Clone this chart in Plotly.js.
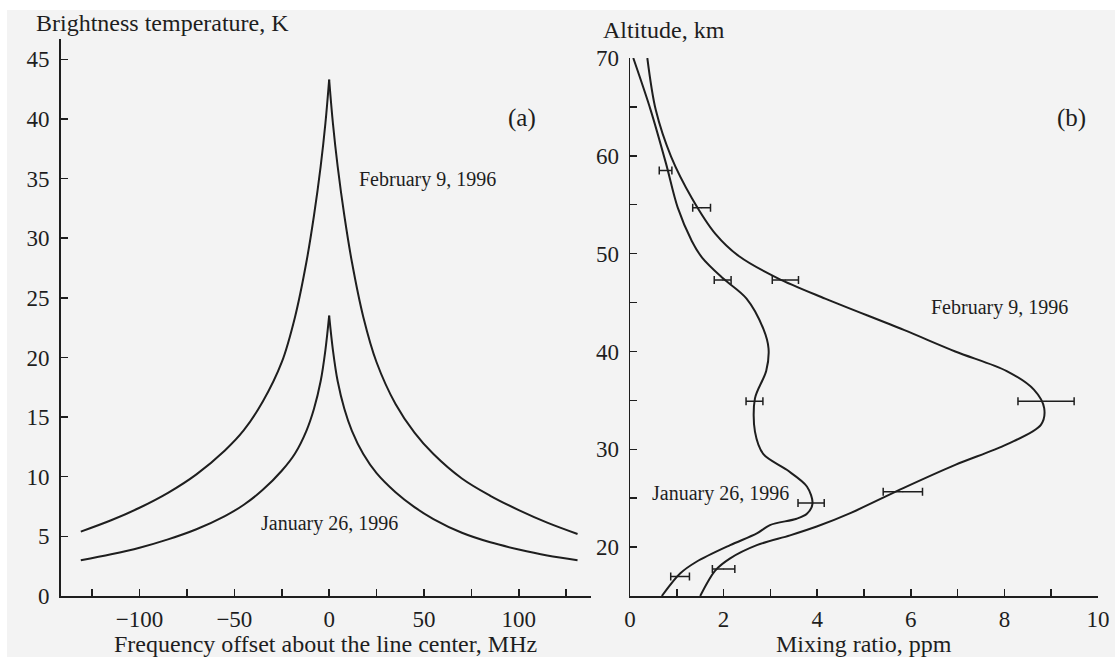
<!DOCTYPE html>
<html>
<head>
<meta charset="utf-8">
<script src="https://cdn.plot.ly/plotly-3.0.1.min.js"></script>
<style>
  html, body { margin: 0; padding: 0; background: #ffffff; }
  #chart { width: 1115px; height: 657px; }
</style>
</head>
<body>
<div id="chart"></div>
<script>
// ---------- Panel (a): brightness temperature spectra ----------
const freqMHz = [-131, -115, -100, -85, -70, -55, -45, -35, -25, -18, -12, -8, -4.5, -2, 0,
                 2, 4.5, 8, 12, 18, 25, 35, 45, 55, 70, 85, 100, 115, 131];
const tbFeb9  = [5.4, 6.35, 7.4, 8.65, 10.2, 12.2, 13.9, 16.3, 19.6, 23.4, 28.0, 31.9, 36.0, 39.6, 43.3,
                 39.6, 36.0, 31.9, 28.0, 23.4, 19.6, 16.1, 13.7, 11.9, 9.85, 8.4, 7.2, 6.15, 5.2];
const tbJan26 = [3.0, 3.5, 4.05, 4.75, 5.6, 6.7, 7.65, 8.9, 10.5, 11.95, 13.85, 15.7, 18.0, 20.6, 23.5,
                 20.6, 18.0, 15.7, 13.85, 11.9, 10.3, 8.7, 7.45, 6.45, 5.3, 4.5, 3.9, 3.4, 3.0];
const freqTickVals = [-125, -100, -75, -50, -25, 0, 25, 50, 75, 100, 125];
const freqTickText = ['', '\u2212100', '', '\u221250', '', '0', '', '50', '', '100', ''];
const tbTickVals = [0, 5, 10, 15, 20, 25, 30, 35, 40, 45];

// ---------- Panel (b): mixing-ratio profiles ----------
const mixJan26 = [0.07, 0.44, 0.77, 1.02, 1.32, 1.54, 1.98, 2.49, 2.85, 2.96, 2.91, 2.67, 2.67, 2.85,
                  3.35, 3.78, 3.90, 3.78, 3.56, 2.99, 2.71, 2.14, 1.42, 1.07, 0.68];
const altJan26 = [70, 64.7, 59.2, 54.7, 51.3, 49.6, 47.5, 45.4, 42.3, 40.3, 38.0, 35.2, 31.8, 29.5,
                  27.9, 26.2, 24.45, 23.4, 22.9, 22.25, 21.4, 20.2, 18.5, 17.3, 15];
const mixFeb9  = [0.37, 0.55, 0.88, 1.32, 1.83, 2.34, 3.15, 4.17, 5.85, 6.95, 8.05, 8.63, 8.85, 8.78,
                  8.05, 6.95, 5.85, 4.72, 3.99, 3.42, 2.71, 2.14, 1.82, 1.50];
const altFeb9  = [70, 64.7, 59.9, 55.7, 52.0, 49.7, 47.5, 45.4, 42.2, 40.0, 38.0, 36.1, 34.2, 32.5,
                  30.5, 28.4, 26.05, 23.5, 22.1, 21.2, 20.2, 18.85, 17.6, 15];
// error-bar points
const errMixJan26 = [0.76, 1.98, 2.66, 3.87, 1.07];
const errAltJan26 = [58.5, 47.3, 34.9, 24.5, 17.0];
const errHalfJan26 = [0.135, 0.18, 0.18, 0.28, 0.2];
const errMixFeb9 = [1.53, 3.32, 8.89, 5.83, 2.0];
const errAltFeb9 = [54.7, 47.3, 34.9, 25.65, 17.75];
const errHalfFeb9 = [0.19, 0.28, 0.6, 0.42, 0.24];
const mixTickVals = [0, 1, 2, 3, 4, 5, 6, 7, 8, 9, 10];
const mixTickText = ['0', '', '2', '', '4', '', '6', '', '8', '', '10'];
const altTickVals = [20, 25, 30, 35, 40, 45, 50, 55, 60, 65, 70];
const altTickText = ['20', '', '30', '', '40', '', '50', '', '60', '', '70'];

// ---------- layout helpers (pixel -> paper) ----------
const W = 1115, H = 657;
const px = v => v / W;
const py = v => (H - v) / H;
const ink = '#1e1e1e';
const serif = '"Liberation Serif", "Times New Roman", Times, serif';

const peak = freqMHz.indexOf(0);
const smoothLine = { color: ink, width: 2, shape: 'spline', smoothing: 1 };
const profLine = { color: ink, width: 2, shape: 'spline', smoothing: 0.9 };

const traces = [
  // each spectrum drawn as two smooth wings meeting in the sharp line-centre cusp
  { x: freqMHz.slice(0, peak + 1), y: tbFeb9.slice(0, peak + 1), xaxis: 'x', yaxis: 'y',
    mode: 'lines', line: smoothLine, hoverinfo: 'skip' },
  { x: freqMHz.slice(peak), y: tbFeb9.slice(peak), xaxis: 'x', yaxis: 'y',
    mode: 'lines', line: smoothLine, hoverinfo: 'skip' },
  { x: freqMHz.slice(0, peak + 1), y: tbJan26.slice(0, peak + 1), xaxis: 'x', yaxis: 'y',
    mode: 'lines', line: smoothLine, hoverinfo: 'skip' },
  { x: freqMHz.slice(peak), y: tbJan26.slice(peak), xaxis: 'x', yaxis: 'y',
    mode: 'lines', line: smoothLine, hoverinfo: 'skip' },
  { x: mixJan26, y: altJan26, xaxis: 'x2', yaxis: 'y2', mode: 'lines', line: profLine, hoverinfo: 'skip' },
  { x: mixFeb9, y: altFeb9, xaxis: 'x2', yaxis: 'y2', mode: 'lines', line: profLine, hoverinfo: 'skip' },
  { x: errMixJan26, y: errAltJan26, xaxis: 'x2', yaxis: 'y2', mode: 'markers',
    marker: { size: 1, color: ink },
    error_x: { type: 'data', array: errHalfJan26, visible: true, color: ink, thickness: 1.5, width: 4 },
    hoverinfo: 'skip' },
  { x: errMixFeb9, y: errAltFeb9, xaxis: 'x2', yaxis: 'y2', mode: 'markers',
    marker: { size: 1, color: ink },
    error_x: { type: 'data', array: errHalfFeb9, visible: true, color: ink, thickness: 1.5, width: 4 },
    hoverinfo: 'skip' }
];

const axisCommon = {
  showline: true, linecolor: ink, linewidth: 1.5,
  ticks: 'inside', ticklen: 7, tickwidth: 1.5, tickcolor: ink,
  showgrid: false, zeroline: false, automargin: false,
  tickfont: { family: serif, size: 23, color: ink },
  fixedrange: true
};

const ann = (text, x, y, xref, yref, size, xanchor) => ({
  text: text, x: x, y: y, xref: xref, yref: yref, showarrow: false,
  xanchor: xanchor || 'center', yanchor: 'middle',
  font: { family: serif, size: size, color: ink }
});

const layout = {
  width: W, height: H,
  margin: { l: 0, r: 0, t: 0, b: 0 },
  paper_bgcolor: '#f3f3f3',
  plot_bgcolor: 'rgba(0,0,0,0)',
  showlegend: false,
  xaxis: Object.assign({}, axisCommon, {
    domain: [px(60.5), px(591)], range: [-141.7, 138.1], anchor: 'y',
    tickmode: 'array', tickvals: freqTickVals, ticktext: freqTickText, ticklabelstandoff: 2
  }),
  yaxis: Object.assign({}, axisCommon, {
    domain: [py(596), py(39)], range: [0, 46.7], anchor: 'x',
    tickmode: 'array', tickvals: tbTickVals, ticktext: tbTickVals.map(String), ticklabelstandoff: 5
  }),
  xaxis2: Object.assign({}, axisCommon, {
    domain: [px(630), px(1098)], range: [0, 10], anchor: 'y2',
    tickmode: 'array', tickvals: mixTickVals, ticktext: mixTickText, ticklabelstandoff: 2
  }),
  yaxis2: Object.assign({}, axisCommon, {
    domain: [py(596), py(58)], range: [15, 70], anchor: 'x2',
    tickmode: 'array', tickvals: altTickVals, ticktext: altTickText, ticklabelstandoff: 5
  }),
  annotations: [
    ann('Brightness temperature, K', px(34), py(23), 'paper', 'paper', 24, 'left'),
    ann('Frequency offset about the line center, MHz', px(325), py(644), 'paper', 'paper', 24),
    ann('Altitude, km', px(601), py(30), 'paper', 'paper', 24, 'left'),
    ann('Mixing ratio, ppm', px(864), py(644), 'paper', 'paper', 24),
    ann('(a)', 101.7, 40.1, 'x', 'y', 25),
    ann('(b)', 9.44, 63.9, 'x2', 'y2', 25),
    ann('February 9, 1996', 51.9, 34.9, 'x', 'y', 20),
    ann('January 26, 1996', 0.2, 6.1, 'x', 'y', 20),
    ann('February 9, 1996', 7.9, 44.5, 'x2', 'y2', 20),
    ann('January 26, 1996', 1.93, 25.5, 'x2', 'y2', 20)
  ],
  shapes: [
    { type: 'rect', xref: 'paper', yref: 'paper', x0: 0, x1: 1, y0: py(10), y1: 1,
      fillcolor: '#ffffff', line: { width: 0 }, layer: 'below' },
    { type: 'rect', xref: 'paper', yref: 'paper', x0: 0, x1: px(7), y0: 0, y1: 1,
      fillcolor: '#ffffff', line: { width: 0 }, layer: 'below' }
  ]
};

Plotly.newPlot('chart', traces, layout, { displayModeBar: false, staticPlot: true });
</script>
</body>
</html>
